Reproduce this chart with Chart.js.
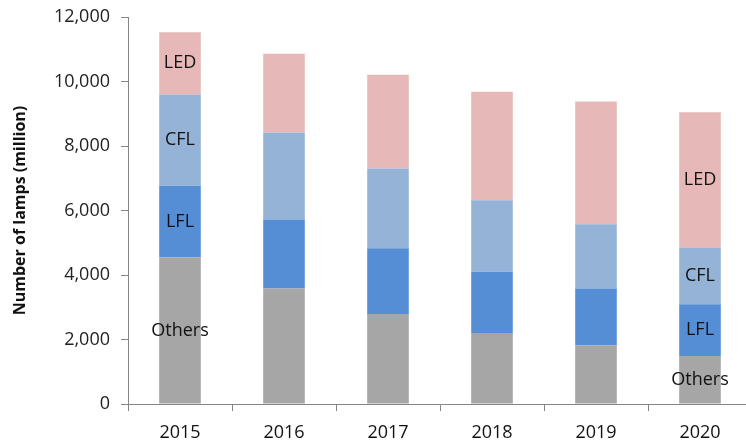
<!DOCTYPE html>
<html>
<head>
<meta charset="utf-8">
<script src="https://cdn.jsdelivr.net/npm/chart.js@4/dist/chart.umd.min.js"></script>
<style>
  html, body { margin: 0; padding: 0; background: #fff; overflow: hidden; }
  #wrap { width: 752px; height: 442px; position: relative; }
</style>
</head>
<body>
<div id="wrap"><canvas id="c"></canvas></div>
<script>
const categories = ['2015', '2016', '2017', '2018', '2019', '2020'];
const others = [4550, 3580, 2790, 2200, 1820, 1490];
const lfl    = [2220, 2140, 2040, 1900, 1760, 1600];
const cfl    = [2830, 2700, 2470, 2220, 1990, 1760];
const led    = [1930, 2440, 2910, 3360, 3810, 4200];
const yTicks = [0, 2000, 4000, 6000, 8000, 10000, 12000];
const seriesNames = ['Others', 'LFL', 'CFL', 'LED'];
const labelledCategories = ['2015', '2020'];

const FONT = '"Open Sans", sans-serif';

const segLabels = {
  id: 'segLabels',
  afterDatasetsDraw(chart) {
    const ctx = chart.ctx;
    ctx.save();
    ctx.font = '18px ' + FONT;
    ctx.fillStyle = '#111';
    ctx.textAlign = 'center';
    ctx.textBaseline = 'middle';
    chart.data.datasets.forEach((ds, di) => {
      const meta = chart.getDatasetMeta(di);
      meta.data.forEach((bar, i) => {
        if (!labelledCategories.includes(categories[i])) return;
        const mid = (bar.y + bar.base) / 2;
        ctx.fillText(ds.label, bar.x, mid);
      });
    });
    ctx.restore();
  }
};

new Chart(document.getElementById('c'), {
  type: 'bar',
  data: {
    labels: categories,
    datasets: [
      { label: seriesNames[0], data: others, backgroundColor: '#a6a6a6' },
      { label: seriesNames[1], data: lfl, backgroundColor: '#558ed5' },
      { label: seriesNames[2], data: cfl, backgroundColor: '#95b3d7' },
      { label: seriesNames[3], data: led, backgroundColor: '#e6b9b8' }
    ]
  },
  options: {
    responsive: true,
    maintainAspectRatio: false,
    animation: false,
    layout: { padding: { top: 17, right: 0, bottom: 0, left: 11 } },
    plugins: { legend: { display: false }, tooltip: { enabled: false } },
    datasets: { bar: { categoryPercentage: 0.4, barPercentage: 1.0 } },
    scales: {
      x: {
        stacked: true,
        afterFit(scale) { scale.height = 38; },
        grid: {
          display: true,
          drawOnChartArea: false,
          drawTicks: true,
          tickLength: 7,
          offset: true,
          color: '#868686'
        },
        border: { display: true, color: '#868686', width: 1 },
        ticks: { color: '#111', font: { family: FONT, size: 18 }, padding: 11, maxRotation: 0 }
      },
      y: {
        stacked: true,
        min: 0,
        max: 12000,
        afterBuildTicks(scale) { scale.ticks = yTicks.map(v => ({ value: v })); },
        afterFit(scale) { scale.width = 117; scale.paddingTop = 0; scale.paddingBottom = 0; },
        grid: {
          display: true,
          drawOnChartArea: false,
          drawTicks: true,
          tickLength: 7,
          color: '#868686'
        },
        border: { display: true, color: '#868686', width: 1 },
        ticks: {
          color: '#222',
          font: { family: FONT, size: 18 },
          padding: 11,
          callback: v => v.toLocaleString('en-US')
        },
        title: {
          display: true,
          text: 'Number of lamps (million)',
          color: '#111',
          font: { family: FONT, size: 16, weight: 'bold' },
          padding: { top: 0, bottom: 4 }
        }
      }
    }
  },
  plugins: [segLabels]
});
</script>
</body>
</html>
